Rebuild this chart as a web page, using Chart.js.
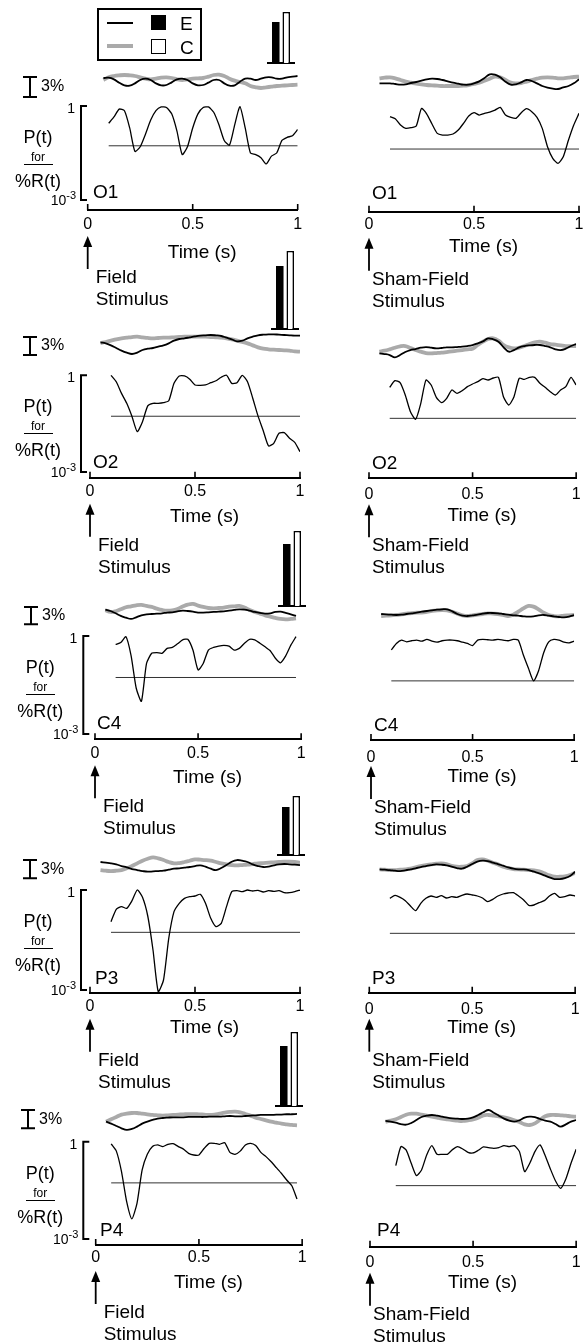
<!DOCTYPE html>
<html>
<head>
<meta charset="utf-8">
<script src="https://cdn.jsdelivr.net/npm/chart.js@4.4.0/dist/chart.umd.min.js"></script>
<style>
  body { margin: 0; background: #fff; font-family: "Liberation Sans", Arial, sans-serif; }
  #fig { position: relative; width: 587px; height: 1344px; overflow: hidden; background: #fff; }
  #fig canvas { position: absolute; }
  .txt { position: absolute; color: #000; white-space: nowrap; }
</style>
</head>
<body>
<div id="fig"></div>
<script>
// time grids (s)
const tTop = [0.05,0.075,0.1,0.125,0.15,0.175,0.2,0.225,0.25,0.275,0.3,0.325,0.35,0.375,0.4,0.425,0.45,0.475,0.5,0.525,0.55,0.575,0.6,0.625,0.65,0.675,0.7,0.725,0.75,0.775,0.8,0.825,0.85,0.875,0.9,0.925,0.95,0.975,1.0];
const tP = [0.075,0.1,0.125,0.15,0.175,0.2,0.225,0.25,0.275,0.3,0.325,0.35,0.375,0.4,0.425,0.45,0.475,0.5,0.525,0.55,0.575,0.6,0.625,0.65,0.675,0.7,0.725,0.75,0.775,0.8,0.825,0.85,0.875,0.9,0.925,0.95,0.975,1.0];

const channels = ['O1', 'O2', 'C4', 'P3', 'P4'];
const barE = [41, 63, 62, 48, 60];
const barC = [51, 78, 75, 59, 74];
const alphaLog10P = -1.27;

// % change traces (E = exposed, C = control) and log10 P(t)
const o1FieldE = [null,0.3,0.35,0.1,-0.4,-0.8,-0.85,-0.5,0,0.2,0,-0.5,-0.8,-0.75,-0.35,0.1,0.2,0,-0.5,-0.8,-0.75,-0.4,0,0,-0.5,-0.85,-0.8,-0.25,0.2,0.2,0,0.2,0.4,0.4,0.2,0.2,0.4,0.5,0.6];
const o1FieldC = [null,0,0.4,0.6,0.7,0.75,0.7,0.6,0.4,0.2,0.1,0.2,0.35,0.4,0.3,0.1,0,0.1,0.2,0.25,0.3,0.5,0.75,0.8,0.6,0.2,-0.1,-0.3,-0.5,-0.9,-1.1,-1.2,-1.1,-1.0,-0.9,-0.85,-0.8,-0.75,-0.7];
const o1FieldP = [null,-0.55,-0.35,-0.1,-0.15,-0.7,-1.45,-1.3,-0.9,-0.45,-0.15,-0.03,-0.05,-0.25,-0.8,-1.55,-1.3,-0.7,-0.25,-0.05,-0.03,-0.2,-0.6,-1.1,-1.25,-0.6,-0.02,-0.7,-1.5,-1.55,-1.65,-1.85,-1.6,-1.5,-1.1,-1.0,-0.95,-0.75];
const o1ShamE = [-0.5,-0.5,-0.5,-0.6,-0.7,-0.65,-0.45,-0.3,-0.1,0.1,0.2,0.15,0,-0.2,-0.4,-0.55,-0.7,-0.7,-0.5,-0.2,0.3,0.85,0.8,0.4,-0.25,-0.7,-0.65,-0.35,0,-0.15,-0.5,-0.9,-1.15,-1.3,-1.35,-1.1,-0.9,-0.5,0.1];
const o1ShamC = [0.25,0.35,0.4,0.25,0,-0.25,-0.4,-0.55,-0.65,-0.75,-0.8,-0.85,-0.9,-0.9,-0.9,-0.9,-0.85,-0.75,-0.6,-0.4,-0.1,0.2,0.5,0.4,0,-0.4,-0.5,-0.45,-0.25,0,0.2,0.35,0.4,0.35,0.25,0.25,0.35,0.45,0.5];
const o1ShamP = [null,-0.3,-0.36,-0.55,-0.65,-0.63,-0.58,-0.05,-0.22,-0.52,-0.8,-0.85,-0.85,-0.82,-0.7,-0.5,-0.28,-0.18,-0.25,-0.2,-0.16,-0.1,-0.02,-0.25,-0.32,-0.35,-0.18,-0.06,-0.15,-0.32,-0.65,-1.2,-1.55,-1.7,-1.5,-1.0,-0.55,-0.2];

const o2FieldE = [0.44,0.28,-0.06,-0.5,-0.94,-1.28,-1.5,-1.28,-0.83,-0.61,-0.5,-0.28,-0.06,0.28,0.72,1.0,1.11,1.28,1.44,1.56,1.61,1.67,1.61,1.5,1.22,0.94,0.61,0.72,1.11,1.39,1.61,1.72,1.78,1.78,1.72,1.67,1.61,1.56,1.56];
const o2FieldC = [0.33,0.5,0.72,0.94,1.11,1.22,1.33,1.39,1.28,1.17,1.11,1.17,1.22,1.22,1.28,1.33,1.39,1.39,1.39,1.39,1.39,1.33,1.28,1.22,1.11,0.94,0.72,0.5,0.28,-0.06,-0.39,-0.61,-0.72,-0.78,-0.83,-0.89,-0.94,-1.06,-1.11];
const o2FieldP = [null,0,-0.2,-0.56,-0.87,-1.28,-1.75,-1.44,-0.95,-0.87,-0.87,-0.85,-0.79,-0.25,-0.02,-0.02,-0.12,-0.3,-0.31,-0.3,-0.23,-0.17,-0.06,0,-0.25,-0.23,0,-0.2,-0.71,-1.26,-1.72,-2.19,-2.11,-1.8,-1.78,-1.95,-2.08,-2.37];
const o2ShamE = [-1.11,-1.22,-1.39,-1.78,-1.39,-0.89,-0.56,-0.39,-0.17,-0.06,-0.17,-0.28,-0.22,-0.11,-0.11,-0.06,0,0.11,0.28,0.56,0.89,1.39,1.22,0.83,-0.11,-0.83,-0.56,-0.11,0.11,0.22,0.28,0.28,0.11,-0.11,-0.44,-0.56,-0.33,0.11,0.44];
const o2ShamC = [-0.83,-0.67,-0.44,-0.17,0.06,0.11,-0.22,-0.56,-0.83,-1.06,-1.11,-1.06,-1.0,-0.89,-0.78,-0.67,-0.56,-0.44,-0.33,0.28,0.83,1.28,1.39,1.0,0.28,-0.11,-0.28,-0.17,0.11,0.44,0.72,0.83,0.67,0.44,0.33,0.22,0.11,0.11,0.11];
const o2ShamP = [null,-0.34,-0.14,-0.2,-0.57,-1.07,-1.3,-0.82,-0.12,-0.27,-0.64,-0.8,-0.67,-0.42,-0.52,-0.44,-0.32,-0.24,-0.17,-0.08,-0.12,-0.06,-0.04,-0.64,-0.87,-0.62,-0.07,-0.1,-0.04,-0.04,-0.22,-0.34,-0.47,-0.57,-0.42,-0.32,-0.04,-0.27];

const c4FieldE = [0.64,0.4,0,-0.46,-0.75,-0.98,-0.69,-0.35,-0.17,-0.12,-0.06,0,0.12,0.17,0.35,0.46,0.4,0.29,0.12,0.12,0.17,0.23,0.29,0.35,0.46,0.58,0.69,0.64,0.46,0.23,0.06,-0.06,0,0.23,0.29,0.06,-0.17,-0.46];
const c4FieldC = [0.52,0.23,0.35,0.69,1.04,1.21,1.39,1.45,1.27,1.1,0.81,0.58,0.46,0.52,0.75,1.16,1.5,1.62,1.33,1.1,0.92,0.87,0.92,0.98,1.16,1.21,1.27,0.98,0.58,0.23,-0.06,-0.35,-0.58,-0.81,-0.98,-1.04,-0.98,-0.87];
const c4FieldP = [null,-0.26,-0.2,-0.02,-0.6,-1.6,-2.0,-0.84,-0.53,-0.51,-0.53,-0.38,-0.35,-0.24,-0.12,-0.1,-0.43,-1.04,-0.84,-0.43,-0.35,-0.31,-0.29,-0.31,-0.43,-0.38,-0.22,-0.1,-0.12,-0.22,-0.33,-0.45,-0.68,-0.82,-0.61,-0.28,-0.02];
const c4ShamE = [0,-0.06,-0.12,-0.17,-0.12,0,0.12,0.23,0.4,0.52,0.64,0.75,0.81,0.81,0.46,0,-0.29,-0.35,-0.23,-0.12,0.06,0.17,0.17,0.12,0,-0.12,-0.23,-0.29,-0.4,-0.46,-0.4,-0.23,-0.17,-0.29,-0.4,-0.52,-0.58,-0.46,-0.17];
const c4ShamC = [-0.35,-0.29,-0.23,-0.17,-0.06,0.06,0.17,0.23,0.23,0.35,0.52,0.64,0.69,0.64,0.4,0.06,-0.23,-0.35,-0.23,-0.12,0,0.12,0.06,0,-0.17,-0.35,-0.12,0.4,0.98,1.39,1.27,0.81,0.23,-0.17,-0.35,-0.4,-0.29,-0.23,-0.17];
const c4ShamP = [null,-0.36,-0.17,-0.07,-0.12,-0.09,-0.07,-0.1,-0.05,-0.1,-0.13,-0.09,-0.07,-0.07,-0.09,-0.13,-0.17,-0.23,-0.07,-0.05,-0.06,-0.07,-0.05,-0.07,-0.09,-0.05,-0.07,-0.51,-0.9,-1.27,-0.97,-0.44,-0.12,-0.05,-0.07,-0.13,-0.15,-0.1];

const p3FieldE = [0.77,0.66,0.55,0.38,0.11,-0.11,-0.38,-0.55,-0.71,-0.82,-0.77,-0.71,-0.66,-0.49,-0.33,-0.27,-0.16,-0.05,0.11,0.22,0,-0.33,-0.55,-0.22,0.27,0.82,1.09,0.98,0.77,0.38,0.11,-0.05,0,0.22,0.38,0.44,0.38,0.33,0.27];
const p3FieldC = [-0.55,-0.66,-0.71,-0.66,-0.55,-0.27,0.11,0.55,0.98,1.31,1.53,1.37,1.09,0.77,0.55,0.6,0.77,0.98,1.2,1.15,1.09,0.98,0.77,0.55,0.38,0.27,0.22,0.27,0.33,0.44,0.55,0.6,0.66,0.71,0.77,0.82,0.82,0.77,0.66];
const p3FieldP = [null,-0.95,-0.58,-0.5,-0.55,-0.32,0,-0.22,-0.78,-1.8,-3.05,-2.7,-1.45,-0.65,-0.4,-0.25,-0.2,-0.18,-0.13,-0.4,-0.85,-1.1,-1.0,-0.5,-0.05,-0.02,-0.05,0,-0.03,-0.01,-0.06,-0.02,-0.04,-0.02,-0.08,-0.08,-0.05,0];
const p3ShamE = [-0.44,-0.49,-0.55,-0.66,-0.71,-0.6,-0.44,-0.27,-0.05,0.11,0.27,0.38,0.33,0.22,0,-0.22,-0.33,0,0.44,0.82,0.98,0.93,0.66,0.44,0.16,-0.11,-0.33,-0.44,-0.44,-0.55,-0.82,-1.09,-1.42,-1.75,-2.02,-2.02,-1.86,-1.53,-0.82];
const p3ShamC = [-0.44,-0.49,-0.55,-0.55,-0.49,-0.44,-0.33,-0.11,0.11,0.27,0.38,0.49,0.55,0.44,0.16,0,0,0.11,0.55,1.09,1.2,0.98,0.66,0.38,0,-0.22,-0.38,-0.44,-0.49,-0.55,-0.6,-0.77,-1.09,-1.42,-1.64,-1.64,-1.58,-1.37,-0.98];
const p3ShamP = [null,-0.22,-0.13,-0.19,-0.29,-0.45,-0.59,-0.37,-0.22,-0.15,-0.19,-0.14,-0.21,-0.17,-0.19,-0.13,-0.09,-0.12,-0.15,-0.21,-0.32,-0.25,-0.15,-0.09,-0.06,-0.05,-0.15,-0.27,-0.43,-0.42,-0.35,-0.29,-0.15,-0.07,-0.19,-0.17,-0.12,-0.15];

const p4FieldE = [-0.55,-0.87,-1.26,-1.64,-1.91,-1.75,-1.37,-0.87,-0.55,-0.27,-0.05,0.05,0.11,0.16,0.16,0.16,0.22,0.22,0.22,0.22,0.27,0.27,0.27,0.33,0.38,0.33,0.33,0.38,0.44,0.49,0.55,0.55,0.55,0.6,0.6,0.66,0.66,0.71];
const p4FieldC = [-0.55,-0.16,0.22,0.6,0.77,0.87,0.87,0.77,0.66,0.55,0.49,0.44,0.49,0.55,0.6,0.66,0.66,0.66,0.66,0.6,0.55,0.6,0.77,0.93,1.04,1.09,0.98,0.71,0.44,0.11,-0.11,-0.33,-0.55,-0.71,-0.87,-0.98,-1.09,-1.15];
const p4FieldP = [-0.07,-0.29,-0.92,-1.85,-2.38,-1.9,-0.87,-0.39,-0.15,-0.1,-0.15,-0.08,-0.06,-0.15,-0.23,-0.36,-0.41,-0.41,-0.21,-0.05,-0.05,-0.08,-0.03,-0.33,-0.39,-0.29,-0.1,-0.05,-0.12,-0.33,-0.46,-0.62,-0.8,-0.98,-1.18,-1.36,-1.77];
const p4ShamE = [null,-0.16,-0.27,-0.44,-0.66,-0.77,-0.49,0,0.49,0.71,0.82,0.71,0.55,0.38,0.27,0.22,0.16,0.22,0.44,0.82,1.26,1.64,1.2,0.71,0.22,-0.11,-0.27,-0.05,0.38,0.55,0.49,0.16,-0.11,-0.27,-0.66,-1.09,-0.71,-0.27,0];
const p4ShamC = [null,-0.27,-0.11,0.11,0.49,0.87,1.04,1.04,0.87,0.71,0.55,0.38,0.22,0.11,0,-0.11,-0.16,-0.05,0.11,0.38,0.77,0.82,0.71,0.6,0.44,0.22,-0.05,-0.33,-0.71,-0.82,-0.55,0.05,0.6,0.82,0.82,0.77,0.71,0.6,0.55];
const p4ShamP = [null,null,-0.67,-0.1,-0.2,-0.6,-0.97,-0.8,-0.35,-0.07,-0.33,-0.33,-0.33,-0.19,-0.1,-0.17,-0.27,-0.29,-0.21,-0.11,-0.13,-0.15,-0.13,-0.07,-0.1,-0.07,-0.25,-0.85,-0.6,-0.25,-0.05,-0.37,-0.77,-1.13,-1.35,-1.07,-0.6,-0.18];

const fieldSeries = [[o1FieldE,o1FieldC,o1FieldP],[o2FieldE,o2FieldC,o2FieldP],[c4FieldE,c4FieldC,c4FieldP],[p3FieldE,p3FieldC,p3FieldP],[p4FieldE,p4FieldC,p4FieldP]];
const shamSeries = [[o1ShamE,o1ShamC,o1ShamP],[o2ShamE,o2ShamC,o2ShamP],[c4ShamE,c4ShamC,c4ShamP],[p3ShamE,p3ShamC,p3ShamP],[p4ShamE,p4ShamC,p4ShamP]];

// page layout (pixels)
const leftGeo = [
  {x0:87.7, w:210, ax:210, yc:80, ppp:6.67, pTop:106, pBot:200, bx:81, sb:77, sbx:30, tg:15, ttl:43, lx:93, ly:192},
  {x0:90, w:210, ax:477.7, yc:345, ppp:6.0, pTop:375.3, pBot:472, bx:81, sb:337, sbx:30, tg:14, ttl:39, lx:93, ly:462},
  {x0:95, w:210, ax:739.3, yc:613.3, ppp:5.77, pTop:636, pBot:734, bx:83.3, sb:607, sbx:31, tg:14, ttl:38, lx:97, ly:723},
  {x0:90, w:210, ax:992.7, yc:866.7, ppp:6.1, pTop:890, pBot:990, bx:81, sb:860, sbx:30, tg:14, ttl:35, lx:95, ly:978},
  {x0:95.7, w:209, ax:1245, yc:1118.3, ppp:6.1, pTop:1141.7, pBot:1239, bx:83.3, sb:1110, sbx:28, tg:13, ttl:38, lx:100, ly:1230}
];
const rightGeo = [
  {x0:369, w:210, ax:211.7, yc:80, ppp:6.67, pTop:106.7, pBot:206.7, tg:13, ttl:35, lx:372, ly:193},
  {x0:369, w:210, ax:478.3, yc:346.7, ppp:6.0, pTop:376, pBot:476, tg:16, ttl:37, lx:372, ly:463},
  {x0:371, w:210, ax:740, yc:614, ppp:5.77, pTop:637.7, pBot:739.7, tg:18, ttl:37, lx:374, ly:725},
  {x0:369.3, w:210, ax:992.7, yc:866.7, ppp:6.1, pTop:891, pBot:991, tg:17, ttl:35, lx:372, ly:978},
  {x0:370, w:210, ax:1246.7, yc:1120, ppp:6.1, pTop:1143.3, pBot:1243.3, tg:16, ttl:36, lx:377, ly:1230}
];
const barGeo = [{l:267, base:63}, {l:271, base:329}, {l:278, base:606}, {l:277, base:855}, {l:275, base:1106}];

Chart.defaults.font.family = '"Liberation Sans", Arial, sans-serif';
Chart.defaults.color = '#000';

const fig = document.getElementById('fig');

function addText(txt, x, top, size, extra) {
  const d = document.createElement('div');
  d.className = 'txt';
  d.textContent = txt;
  d.style.left = x + 'px';
  d.style.top = top + 'px';
  d.style.fontSize = size + 'px';
  d.style.lineHeight = size + 'px';
  if (extra) Object.assign(d.style, extra);
  fig.appendChild(d);
  return d;
}

function pts(ts, vs) {
  return vs.map((v, i) => ({x: ts[i], y: v}));
}

function panel(g, isLeft, series) {
  const [e, c, p] = series;
  const cLeft = isLeft ? 0 : 300, cW = isLeft ? 310 : 287;
  const cTop = Math.round(g.yc - 27), axisH = 62, T = 2;
  const B = g.ax - cTop;
  const cH = Math.ceil(B + axisH);
  const cv = document.createElement('canvas');
  cv.width = cW; cv.height = cH;
  Object.assign(cv.style, {left: cLeft + 'px', top: cTop + 'px', width: cW + 'px', height: cH + 'px'});
  fig.appendChild(cv);

  const pctMin = (g.yc - cTop - B) / g.ppp;
  const pctMax = pctMin + (B - T) / g.ppp;
  const ppd = (g.pBot - g.pTop) / 3;
  const lpMin = (g.pTop - cTop - B) / ppd;
  const lpMax = lpMin + (B - T) / ppd;

  const first = p.findIndex(v => v !== null);
  const alphaLine = [{x: tP[first], y: alphaLog10P}, {x: tP[p.length - 1], y: alphaLog10P}];

  const marks = {
    id: 'marks',
    afterDraw(chart) {
      const ctx = chart.ctx, xs = chart.scales.x, lp = chart.scales.lp, pct = chart.scales.pct;
      ctx.save();
      ctx.strokeStyle = '#000';
      ctx.fillStyle = '#000';
      // inward tick marks on the time axis
      const yb = xs.top;
      ctx.lineWidth = 1.6;
      ctx.beginPath();
      xs.ticks.forEach(t => {
        const px = xs.getPixelForValue(t.value);
        ctx.moveTo(px, yb); ctx.lineTo(px, yb - 6);
      });
      ctx.stroke();
      // stimulus arrow at t = 0
      const a = xs.getPixelForValue(0);
      ctx.lineWidth = 1.8;
      ctx.beginPath(); ctx.moveTo(a, yb + 34); ctx.lineTo(a, yb + 59); ctx.stroke();
      ctx.beginPath(); ctx.moveTo(a, yb + 26); ctx.lineTo(a - 4.5, yb + 37); ctx.lineTo(a + 4.5, yb + 37); ctx.closePath(); ctx.fill();
      if (isLeft) {
        // P(t) log axis bracket, 1 .. 10^-3
        const bx = g.bx - cLeft, y1 = lp.getPixelForValue(0), y3 = lp.getPixelForValue(-3);
        ctx.lineWidth = 2;
        ctx.beginPath(); ctx.moveTo(bx + 6, y1); ctx.lineTo(bx, y1); ctx.lineTo(bx, y3); ctx.lineTo(bx + 6, y3); ctx.stroke();
        ctx.textAlign = 'right';
        ctx.textBaseline = 'alphabetic';
        ctx.font = '14px "Liberation Sans"';
        ctx.fillText('1', bx - 6, y1 + 7);
        ctx.font = '11px "Liberation Sans"';
        const w = ctx.measureText('-3').width;
        ctx.fillText('-3', bx - 5, y3 - 1);
        ctx.font = '14px "Liberation Sans"';
        ctx.fillText('10', bx - 5 - w, y3 + 5);
        // 3% scale bar
        const ys = g.sb - cTop, len = pct.getPixelForValue(0) - pct.getPixelForValue(3), sx = g.sbx;
        ctx.lineWidth = 2;
        ctx.beginPath();
        ctx.moveTo(sx, ys); ctx.lineTo(sx, ys + len);
        ctx.moveTo(sx - 7, ys); ctx.lineTo(sx + 7, ys);
        ctx.moveTo(sx - 7, ys + len); ctx.lineTo(sx + 7, ys + len);
        ctx.stroke();
        ctx.textAlign = 'left';
        ctx.textBaseline = 'middle';
        ctx.font = '16px "Liberation Sans"';
        ctx.fillText('3%', sx + 11, ys + len / 2);
      }
      ctx.restore();
    }
  };

  new Chart(cv, {
    type: 'line',
    data: {
      datasets: [
        {label: 'E', data: pts(tTop, e), yAxisID: 'pct', borderColor: '#000', borderWidth: 1.8, tension: 0.4, order: 1},
        {label: 'C', data: pts(tTop, c), yAxisID: 'pct', borderColor: '#aaaaaa', borderWidth: 3.8, tension: 0.4, order: 2},
        {label: 'P', data: pts(tP, p), yAxisID: 'lp', borderColor: '#000', borderWidth: 1.3, tension: 0.2, order: 0},
        {label: 'alpha', data: alphaLine, yAxisID: 'lp', borderColor: '#333', borderWidth: 1, tension: 0, order: 3}
      ]
    },
    options: {
      responsive: false,
      animation: false,
      events: [],
      elements: {point: {radius: 0}},
      layout: {padding: {left: g.x0 - cLeft, right: cW - (g.x0 - cLeft + g.w), top: T, bottom: cH - B - axisH}},
      plugins: {legend: {display: false}, tooltip: {enabled: false}},
      scales: {
        x: {
          type: 'linear', position: 'bottom', min: 0, max: 1,
          ticks: {stepSize: 0.5, padding: g.tg - 9.6, font: {size: 16}, color: '#000', maxRotation: 0, autoSkip: false,
                  callback: v => String(v)},
          grid: {display: false, drawTicks: false},
          border: {display: true, color: '#000', width: 2},
          title: {display: true, text: '\u2002\u2002Time (s)', font: {size: 19}, color: '#000', padding: {top: 0, bottom: axisH - g.ttl - 11.4}},
          afterFit: s => { s.height = axisH; }
        },
        pct: {type: 'linear', display: false, min: pctMin, max: pctMax},
        lp: {type: 'linear', display: false, min: lpMin, max: lpMax}
      }
    },
    plugins: [marks]
  });
}

function bars(row) {
  const b = barGeo[row];
  const cv = document.createElement('canvas');
  cv.width = 28; cv.height = 87;
  Object.assign(cv.style, {left: b.l + 'px', top: (b.base - 85) + 'px', width: '28px', height: '87px'});
  fig.appendChild(cv);
  new Chart(cv, {
    type: 'bar',
    data: {
      labels: [channels[row]],
      datasets: [
        {label: 'E', data: [barE[row]], backgroundColor: '#000', borderColor: '#000', borderWidth: 0},
        {label: 'C', data: [barC[row]], backgroundColor: '#fff', borderColor: '#000', borderWidth: 1.6, borderSkipped: 'bottom'}
      ]
    },
    options: {
      responsive: false,
      animation: false,
      events: [],
      layout: {padding: {left: 0, right: 0, top: 0, bottom: 2}},
      datasets: {bar: {categoryPercentage: 0.75, barPercentage: 0.72}},
      plugins: {legend: {display: false}, tooltip: {enabled: false}},
      scales: {
        x: {display: true, ticks: {display: false}, grid: {display: false, drawTicks: false},
            border: {display: true, color: '#000', width: 2}, afterFit: s => { s.height = 0; }},
        y: {display: false, min: 0, max: 85}
      }
    }
  });
}

for (let r = 0; r < 5; r++) {
  const gl = leftGeo[r], gr = rightGeo[r];
  panel(gl, true, fieldSeries[r]);
  panel(gr, false, shamSeries[r]);
  bars(r);

  // P(t) for %R(t) label
  const cx = gl.bx - 76;
  addText('P(t)', cx, gl.pTop + 31 - 9, 18, {width: '66px', textAlign: 'center'});
  addText('for', cx, gl.pTop + 51 - 6, 12, {width: '66px', textAlign: 'center'});
  const bar = document.createElement('div');
  Object.assign(bar.style, {position: 'absolute', left: (gl.bx - 57) + 'px', top: (gl.pTop + 58) + 'px', width: '29px', height: '0', borderTop: '1.5px solid #000'});
  fig.appendChild(bar);
  addText('%R(t)', cx, gl.pTop + 75 - 9, 18, {width: '66px', textAlign: 'center'});

  addText(channels[r], gl.lx, gl.ly - 10, 19);
  addText(channels[r], gr.lx, gr.ly - 10, 19);

  addText('Field', gl.x0 + 8, gl.ax + 73 - 16, 19);
  addText('Stimulus', gl.x0 + 8, gl.ax + 95 - 16, 19);
  addText('Sham-Field', gr.x0 + 3, gr.ax + 73 - 16, 19);
  addText('Stimulus', gr.x0 + 3, gr.ax + 95 - 16, 19);
}

// legend box
const lg = document.createElement('div');
Object.assign(lg.style, {position: 'absolute', left: '97px', top: '8px', width: '101px', height: '49px', border: '2px solid #000'});
fig.appendChild(lg);
function legendLine(top, color, h) {
  const d = document.createElement('div');
  Object.assign(d.style, {position: 'absolute', left: '107px', top: top + 'px', width: '26px', height: h + 'px', background: color});
  fig.appendChild(d);
}
function legendBox(top, fill) {
  const d = document.createElement('div');
  Object.assign(d.style, {position: 'absolute', left: '151px', top: top + 'px', width: '13px', height: '13px', background: fill, border: '1.5px solid #000'});
  fig.appendChild(d);
}
legendLine(22, '#000', 2);
legendLine(44, '#aaaaaa', 4);
legendBox(15, '#000');
legendBox(39, '#fff');
addText('E', 180, 14, 19);
addText('C', 180, 38, 19);
</script>
</body>
